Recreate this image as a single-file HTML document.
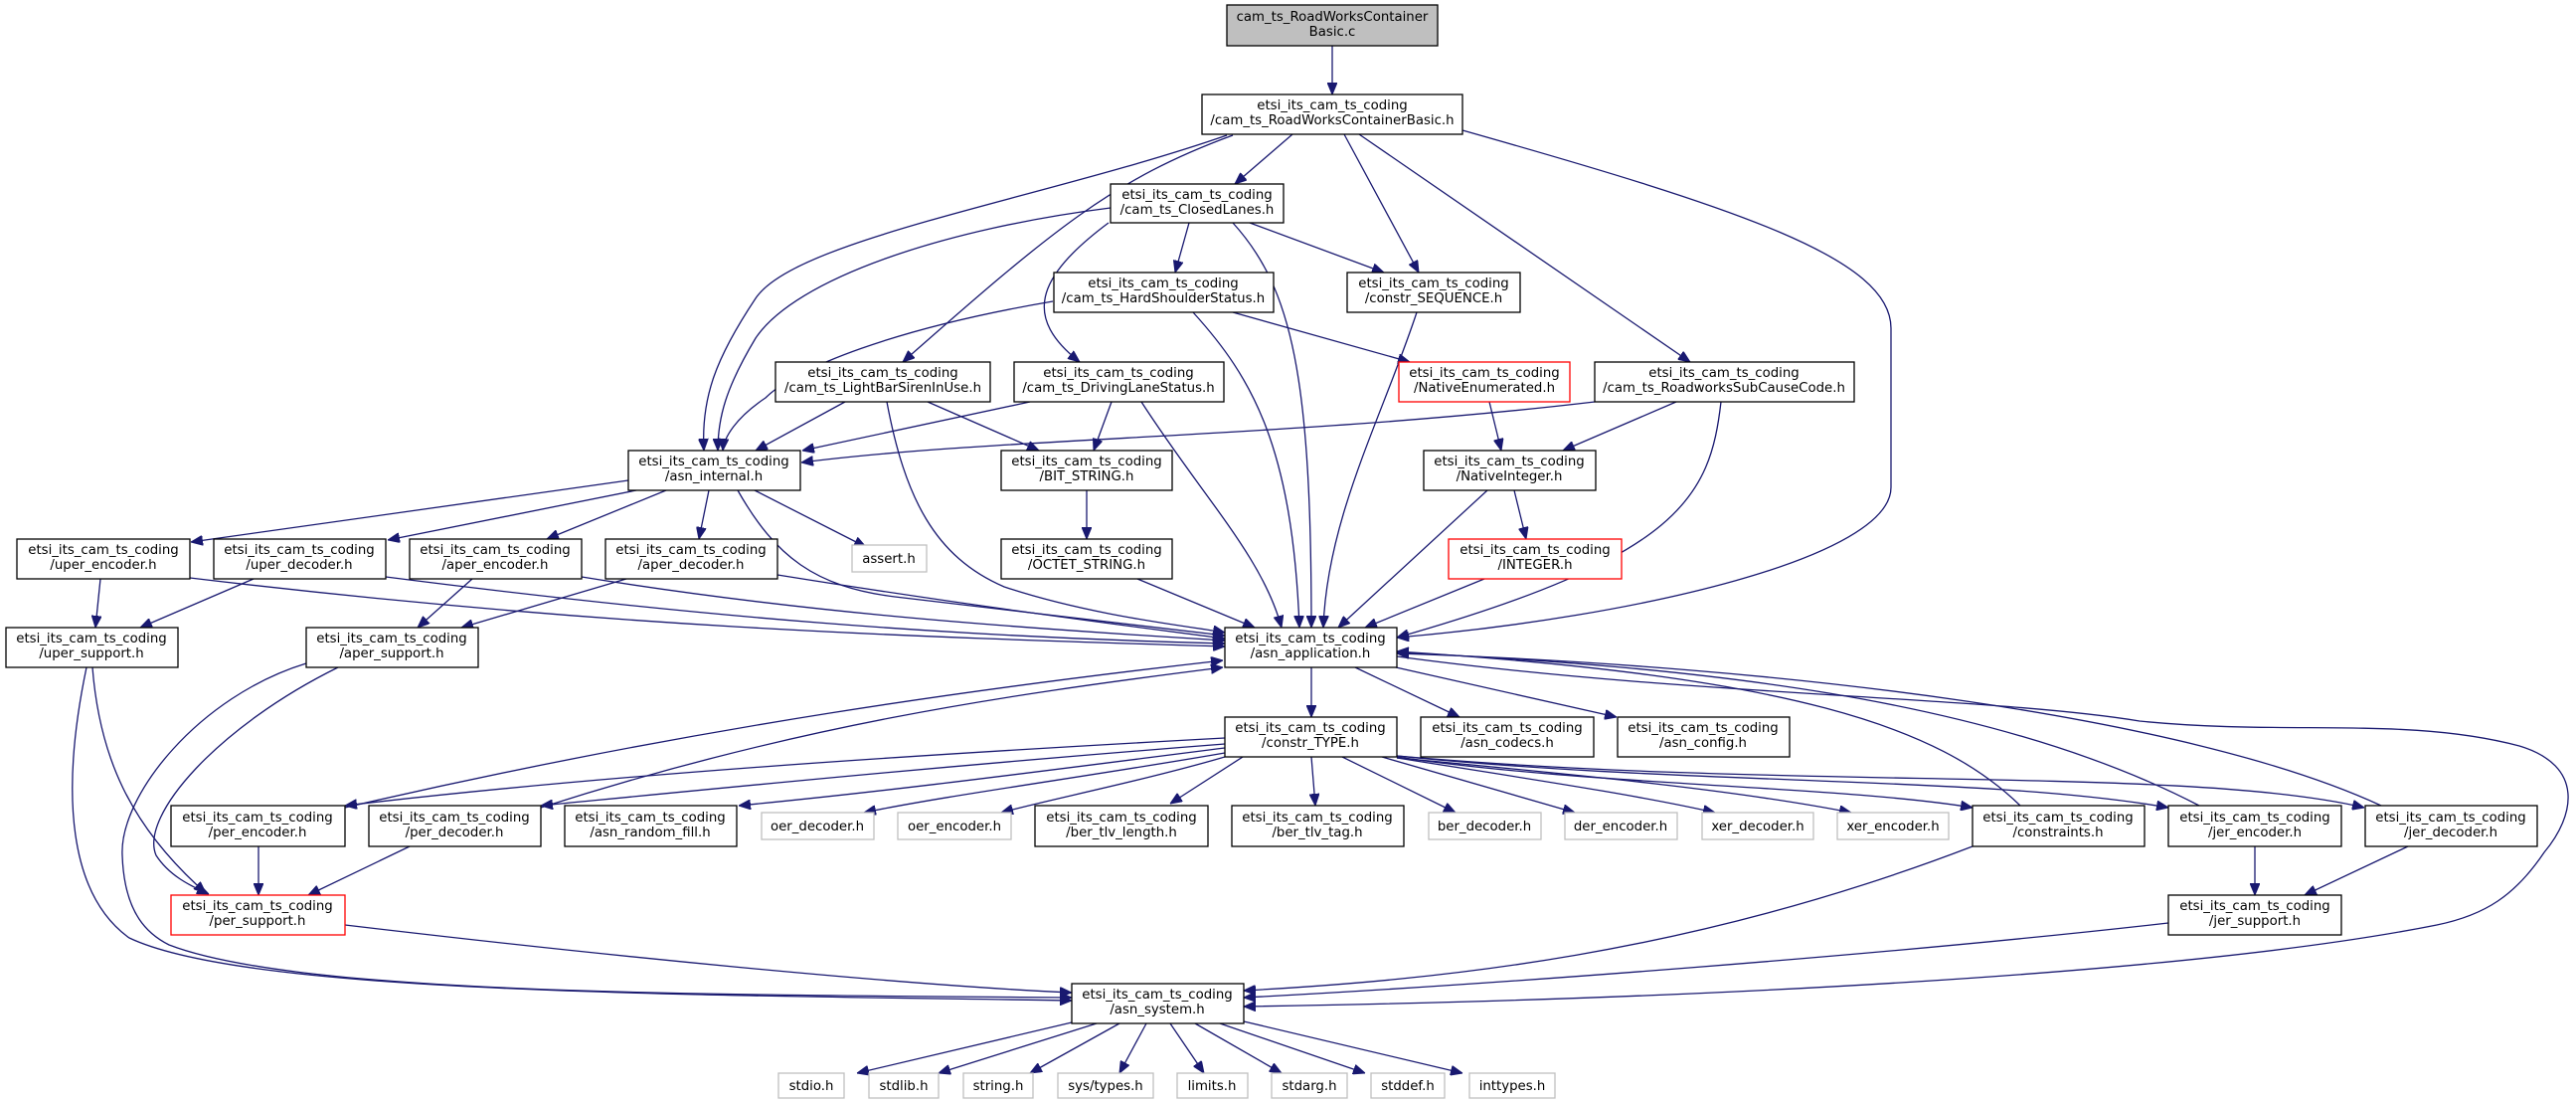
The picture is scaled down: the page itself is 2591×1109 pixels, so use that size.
<!DOCTYPE html>
<html><head><meta charset="utf-8"><style>
html,body{margin:0;padding:0;background:#fff;}
svg{display:block;}
text{font-family:"DejaVu Sans","Liberation Sans",sans-serif;font-size:13.3px;fill:#000;text-anchor:middle;}
.e{fill:none;stroke:#191970;stroke-width:1.3;marker-end:url(#ah);}
.n{fill:#fff;stroke:#000;stroke-width:1.3;}
.r{fill:#fff;stroke:#ff0000;stroke-width:1.3;}
.g{fill:#fff;stroke:#bfbfbf;stroke-width:1.3;}
</style></head><body>
<svg width="2591" height="1109" viewBox="0 0 2591 1109" xmlns="http://www.w3.org/2000/svg">
<defs><marker id="ah" markerUnits="userSpaceOnUse" viewBox="0 0 12 10" refX="12" refY="5" markerWidth="12" markerHeight="10" orient="auto"><path d="M0,0 L12,5 L0,10 z" fill="#191970" stroke="#191970"/></marker></defs>

<!-- edges -->
<path class="e" d="M1340,46 L1340,95"/>
<path class="e" d="M1300,135 L1242,185"/>
<path class="e" d="M1234,136 C1050,200 800,240 760,300 C720,360 705,400 708,453"/>
<path class="e" d="M1117,209 C950,230 800,280 760,340 C730,390 722,420 722,453"/>
<path class="e" d="M1240,136 C1120,180 1060,230 908,364"/>
<path class="e" d="M1352,135 L1427,274"/>
<path class="e" d="M1367,135 L1700,364"/>
<path class="e" d="M1471,131 C1750,210 1902,260 1902,330 L1902,490 C1902,560 1650,620 1405,641"/>
<path class="e" d="M1196,224 L1182,274"/>
<path class="e" d="M1115,224 C1040,280 1030,320 1086,364"/>
<path class="e" d="M1240,224 C1300,290 1319,380 1319,631"/>
<path class="e" d="M1257,224 L1392,274"/>
<path class="e" d="M1059,303 C900,330 800,370 770,400 C740,420 728,440 727,453"/>
<path class="e" d="M1240,314 L1418,364"/>
<path class="e" d="M1200,314 C1260,380 1300,450 1307,631"/>
<path class="e" d="M1425,314 C1390,420 1335,520 1331,631"/>
<path class="e" d="M850,404 L760,453"/>
<path class="e" d="M933,404 L1045,453"/>
<path class="e" d="M892,404 C910,500 940,560 1010,590 C1100,620 1200,630 1232,636"/>
<path class="e" d="M1036,404 L807,453"/>
<path class="e" d="M1118,404 L1100,453"/>
<path class="e" d="M1148,404 C1210,500 1270,560 1289,631"/>
<path class="e" d="M1498,404 L1510,453"/>
<path class="e" d="M1604,404 C1300,440 1000,440 806,465"/>
<path class="e" d="M1686,404 L1572,453"/>
<path class="e" d="M1731,404 C1720,500 1690,560 1405,641"/>
<path class="e" d="M632,483 L192,545"/>
<path class="e" d="M640,493 L390,543"/>
<path class="e" d="M670,493 L550,542"/>
<path class="e" d="M713,493 L703,542"/>
<path class="e" d="M759,493 L871,550"/>
<path class="e" d="M742,493 C780,560 820,590 900,600 L1232,639"/>
<path class="e" d="M1093,493 L1093,542"/>
<path class="e" d="M1496,493 L1346,631"/>
<path class="e" d="M1523,493 L1535,542"/>
<path class="e" d="M1144,582 L1262,631"/>
<path class="e" d="M1493,582 L1373,631"/>
<path class="e" d="M101,582 L96,631"/>
<path class="e" d="M191,581 C600,630 900,640 1232,650"/>
<path class="e" d="M255,582 L141,631"/>
<path class="e" d="M388,580 C700,620 950,640 1232,647"/>
<path class="e" d="M475,582 L420,631"/>
<path class="e" d="M585,580 C800,615 1000,630 1232,644"/>
<path class="e" d="M630,582 L464,631"/>
<path class="e" d="M782,578 C950,605 1100,625 1232,642"/>
<path class="e" d="M93,671 C100,760 130,830 207,898"/>
<path class="e" d="M87,671 C60,800 70,900 130,943 C250,1000 700,1000 1078,1006"/>
<path class="e" d="M340,671 C220,730 140,820 157,860 C170,880 190,890 210,899"/>
<path class="e" d="M308,667 C200,700 120,800 123,860 C125,920 150,940 170,950 C300,1000 700,1000 1078,1003"/>
<path class="e" d="M1319,671 L1319,721"/>
<path class="e" d="M1363,671 L1468,721"/>
<path class="e" d="M1404,671 L1626,721"/>
<path class="e" d="M1405,660 C1700,700 2000,700 2152,725 C2300,740 2420,720 2534,750 C2600,770 2590,820 2559,857 C2530,900 2500,920 2451,930 C2200,980 1700,1005 1251,1012"/>
<path class="e" d="M1232,742 C900,760 600,780 347,810"/>
<path class="e" d="M1232,748 C950,770 750,790 544,810"/>
<path class="e" d="M1232,752 C1050,775 900,795 743,810"/>
<path class="e" d="M1232,757 C1100,780 950,800 869,817"/>
<path class="e" d="M1232,761 C1150,785 1050,805 1007,817"/>
<path class="e" d="M1250,761 L1177,808"/>
<path class="e" d="M1319,761 L1323,810"/>
<path class="e" d="M1350,761 L1464,817"/>
<path class="e" d="M1390,761 L1584,817"/>
<path class="e" d="M1405,762 C1550,785 1650,800 1725,817"/>
<path class="e" d="M1405,762 C1600,780 1750,795 1862,817"/>
<path class="e" d="M1405,761 C1600,790 1850,790 1984,812"/>
<path class="e" d="M1405,760 C1700,790 2000,780 2181,812"/>
<path class="e" d="M1405,760 C1800,795 2200,770 2378,812"/>
<path class="e" d="M347,812 C700,730 1000,690 1230,664"/>
<path class="e" d="M544,812 C800,730 1000,700 1230,671"/>
<path class="e" d="M260,851 L260,900"/>
<path class="e" d="M412,851 L310,900"/>
<path class="e" d="M2032,810 C1950,730 1800,680 1405,655"/>
<path class="e" d="M2212,810 C2000,700 1700,670 1405,656"/>
<path class="e" d="M2395,810 C2200,720 1800,670 1405,657"/>
<path class="e" d="M1984,851 C1700,960 1450,985 1251,996"/>
<path class="e" d="M2268,851 L2268,900"/>
<path class="e" d="M2422,851 L2318,900"/>
<path class="e" d="M2181,928 C1900,960 1500,990 1251,1003"/>
<path class="e" d="M347,930 C600,960 900,990 1078,998"/>
<path class="e" d="M1078,1028 L862,1079"/>
<path class="e" d="M1103,1029 L944,1079"/>
<path class="e" d="M1126,1029 L1036,1079"/>
<path class="e" d="M1153,1029 L1126,1079"/>
<path class="e" d="M1177,1029 L1211,1079"/>
<path class="e" d="M1202,1029 L1289,1079"/>
<path class="e" d="M1227,1029 L1373,1079"/>
<path class="e" d="M1251,1027 L1471,1079"/>

<!-- nodes -->
<rect x="1234" y="5" width="212" height="41" fill="#bfbfbf" stroke="#000" stroke-width="1.3"/>
<text x="1340" y="21">cam_ts_RoadWorksContainer</text><text x="1340" y="36">Basic.c</text>

<rect class="n" x="1209" y="95" width="262" height="40"/><text x="1340" y="110">etsi_its_cam_ts_coding</text><text x="1340" y="125">/cam_ts_RoadWorksContainerBasic.h</text>
<rect class="n" x="1117" y="185" width="174" height="39"/><text x="1204" y="200">etsi_its_cam_ts_coding</text><text x="1204" y="215">/cam_ts_ClosedLanes.h</text>
<rect class="n" x="1060" y="274" width="221" height="40"/><text x="1170" y="289">etsi_its_cam_ts_coding</text><text x="1170" y="304">/cam_ts_HardShoulderStatus.h</text>
<rect class="n" x="1355" y="274" width="174" height="40"/><text x="1442" y="289">etsi_its_cam_ts_coding</text><text x="1442" y="304">/constr_SEQUENCE.h</text>
<rect class="n" x="780" y="364" width="216" height="40"/><text x="888" y="379">etsi_its_cam_ts_coding</text><text x="888" y="394">/cam_ts_LightBarSirenInUse.h</text>
<rect class="n" x="1020" y="364" width="211" height="40"/><text x="1125" y="379">etsi_its_cam_ts_coding</text><text x="1125" y="394">/cam_ts_DrivingLaneStatus.h</text>
<rect class="r" x="1407" y="364" width="172" height="40"/><text x="1493" y="379">etsi_its_cam_ts_coding</text><text x="1493" y="394">/NativeEnumerated.h</text>
<rect class="n" x="1604" y="364" width="261" height="40"/><text x="1734" y="379">etsi_its_cam_ts_coding</text><text x="1734" y="394">/cam_ts_RoadworksSubCauseCode.h</text>
<rect class="n" x="632" y="453" width="173" height="40"/><text x="718" y="468">etsi_its_cam_ts_coding</text><text x="718" y="483">/asn_internal.h</text>
<rect class="n" x="1007" y="453" width="172" height="40"/><text x="1093" y="468">etsi_its_cam_ts_coding</text><text x="1093" y="483">/BIT_STRING.h</text>
<rect class="n" x="1432" y="453" width="173" height="40"/><text x="1518" y="468">etsi_its_cam_ts_coding</text><text x="1518" y="483">/NativeInteger.h</text>
<rect class="n" x="17" y="542" width="174" height="40"/><text x="104" y="557">etsi_its_cam_ts_coding</text><text x="104" y="572">/uper_encoder.h</text>
<rect class="n" x="215" y="542" width="173" height="40"/><text x="301" y="557">etsi_its_cam_ts_coding</text><text x="301" y="572">/uper_decoder.h</text>
<rect class="n" x="412" y="542" width="173" height="40"/><text x="498" y="557">etsi_its_cam_ts_coding</text><text x="498" y="572">/aper_encoder.h</text>
<rect class="n" x="609" y="542" width="173" height="40"/><text x="695" y="557">etsi_its_cam_ts_coding</text><text x="695" y="572">/aper_decoder.h</text>
<rect class="g" x="857" y="548" width="75" height="27"/><text x="894" y="566">assert.h</text>
<rect class="n" x="1007" y="542" width="172" height="40"/><text x="1093" y="557">etsi_its_cam_ts_coding</text><text x="1093" y="572">/OCTET_STRING.h</text>
<rect class="r" x="1457" y="542" width="174" height="40"/><text x="1544" y="557">etsi_its_cam_ts_coding</text><text x="1544" y="572">/INTEGER.h</text>
<rect class="n" x="6" y="631" width="173" height="40"/><text x="92" y="646">etsi_its_cam_ts_coding</text><text x="92" y="661">/uper_support.h</text>
<rect class="n" x="308" y="631" width="173" height="40"/><text x="394" y="646">etsi_its_cam_ts_coding</text><text x="394" y="661">/aper_support.h</text>
<rect class="n" x="1232" y="631" width="173" height="40"/><text x="1318" y="646">etsi_its_cam_ts_coding</text><text x="1318" y="661">/asn_application.h</text>
<rect class="n" x="1232" y="721" width="173" height="40"/><text x="1318" y="736">etsi_its_cam_ts_coding</text><text x="1318" y="751">/constr_TYPE.h</text>
<rect class="n" x="1429" y="721" width="174" height="40"/><text x="1516" y="736">etsi_its_cam_ts_coding</text><text x="1516" y="751">/asn_codecs.h</text>
<rect class="n" x="1627" y="721" width="173" height="40"/><text x="1713" y="736">etsi_its_cam_ts_coding</text><text x="1713" y="751">/asn_config.h</text>
<rect class="n" x="172" y="810" width="175" height="41"/><text x="259" y="826">etsi_its_cam_ts_coding</text><text x="259" y="841">/per_encoder.h</text>
<rect class="n" x="371" y="810" width="173" height="41"/><text x="457" y="826">etsi_its_cam_ts_coding</text><text x="457" y="841">/per_decoder.h</text>
<rect class="n" x="568" y="810" width="173" height="41"/><text x="654" y="826">etsi_its_cam_ts_coding</text><text x="654" y="841">/asn_random_fill.h</text>
<rect class="g" x="766" y="817" width="113" height="27"/><text x="822" y="835">oer_decoder.h</text>
<rect class="g" x="903" y="817" width="114" height="27"/><text x="960" y="835">oer_encoder.h</text>
<rect class="n" x="1041" y="810" width="174" height="41"/><text x="1128" y="826">etsi_its_cam_ts_coding</text><text x="1128" y="841">/ber_tlv_length.h</text>
<rect class="n" x="1239" y="810" width="173" height="41"/><text x="1325" y="826">etsi_its_cam_ts_coding</text><text x="1325" y="841">/ber_tlv_tag.h</text>
<rect class="g" x="1437" y="817" width="113" height="27"/><text x="1493" y="835">ber_decoder.h</text>
<rect class="g" x="1574" y="817" width="113" height="27"/><text x="1630" y="835">der_encoder.h</text>
<rect class="g" x="1712" y="817" width="112" height="27"/><text x="1768" y="835">xer_decoder.h</text>
<rect class="g" x="1848" y="817" width="112" height="27"/><text x="1904" y="835">xer_encoder.h</text>
<rect class="n" x="1984" y="810" width="173" height="41"/><text x="2070" y="826">etsi_its_cam_ts_coding</text><text x="2070" y="841">/constraints.h</text>
<rect class="n" x="2181" y="810" width="174" height="41"/><text x="2268" y="826">etsi_its_cam_ts_coding</text><text x="2268" y="841">/jer_encoder.h</text>
<rect class="n" x="2379" y="810" width="173" height="41"/><text x="2465" y="826">etsi_its_cam_ts_coding</text><text x="2465" y="841">/jer_decoder.h</text>
<rect class="r" x="172" y="900" width="175" height="40"/><text x="259" y="915">etsi_its_cam_ts_coding</text><text x="259" y="930">/per_support.h</text>
<rect class="n" x="2181" y="900" width="174" height="40"/><text x="2268" y="915">etsi_its_cam_ts_coding</text><text x="2268" y="930">/jer_support.h</text>
<rect class="n" x="1078" y="989" width="173" height="40"/><text x="1164" y="1004">etsi_its_cam_ts_coding</text><text x="1164" y="1019">/asn_system.h</text>
<rect class="g" x="783" y="1079" width="66" height="25"/><text x="816" y="1096">stdio.h</text>
<rect class="g" x="874" y="1079" width="70" height="25"/><text x="909" y="1096">stdlib.h</text>
<rect class="g" x="969" y="1079" width="70" height="25"/><text x="1004" y="1096">string.h</text>
<rect class="g" x="1064" y="1079" width="96" height="25"/><text x="1112" y="1096">sys/types.h</text>
<rect class="g" x="1184" y="1079" width="71" height="25"/><text x="1219" y="1096">limits.h</text>
<rect class="g" x="1279" y="1079" width="76" height="25"/><text x="1317" y="1096">stdarg.h</text>
<rect class="g" x="1379" y="1079" width="74" height="25"/><text x="1416" y="1096">stddef.h</text>
<rect class="g" x="1478" y="1079" width="86" height="25"/><text x="1521" y="1096">inttypes.h</text>
</svg>
</body></html>
